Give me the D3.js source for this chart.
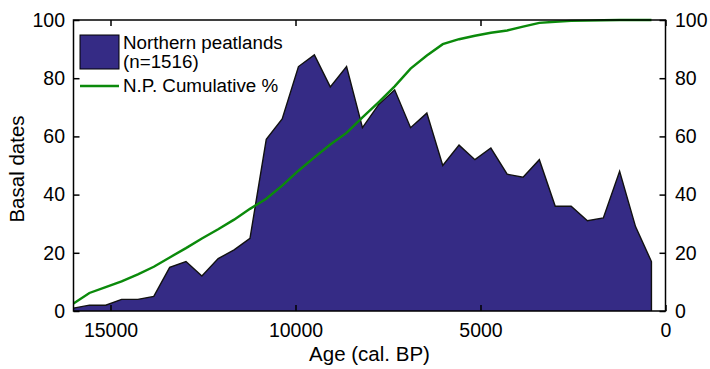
<!DOCTYPE html>
<html>
<head>
<meta charset="utf-8">
<script src="https://cdn.jsdelivr.net/npm/d3@7"></script>
<style>
  html, body { margin: 0; padding: 0; background: #fff; }
  svg { display: block; }
  text { font-family: "Liberation Sans", Arial, sans-serif; fill: #000; }
</style>
</head>
<body>
<svg id="chart" width="710" height="369"></svg>
<script>
// Age of each bin (cal. BP)
const ages = [16000, 15570, 15130, 14700, 14260, 13830, 13400, 12960, 12530, 12090,
              11660, 11230, 10790, 10360, 9920, 9490, 9060, 8620, 8190, 7750,
              7320, 6890, 6450, 6020, 5580, 5150, 4720, 4280, 3850, 3410,
              2980, 2550, 2110, 1680, 1240, 810, 380];
// Number of basal dates per bin, northern peatlands
const basalDates = [1, 2, 2, 4, 4, 5, 15, 17, 12, 18,
                    21, 25, 59, 66, 84, 88, 77, 84, 63, 71,
                    76, 63, 68, 50, 57, 52, 56, 47, 46, 52,
                    36, 36, 31, 32, 48, 29, 17];
// Cumulative percentage, northern peatlands
const cumulativePct = [2.6, 6.2, 8.2, 10.2, 12.6, 15.2, 18.4, 21.6, 24.9, 28.1,
                       31.4, 35.1, 38.6, 43.1, 48.2, 52.8, 57.2, 61.2, 66.5, 71.8,
                       77.2, 83.3, 87.8, 91.7, 93.4, 94.6, 95.6, 96.4, 97.7, 99.0,
                       99.4, 99.7, 99.8, 99.9, 100, 100, 100];
const xTicks = [15000, 10000, 5000, 0];
const yTicks = [0, 20, 40, 60, 80, 100];
const legendLabels = ["Northern peatlands", "(n=1516)", "N.P. Cumulative %"];

const fillColor = "#352b85";
const lineColor = "#0b8a0b";

const svg = d3.select("#chart");
const L = 73.5, R = 665.5, T = 20, B = 311;

const x = d3.scaleLinear().domain([16000, 0]).range([L, R]);
const yLeft = d3.scaleLinear().domain([0, 100]).range([B, T]);
const yRight = d3.scaleLinear().domain([0, 100]).range([B, T]);

const rows = ages.map((a, i) => ({ age: a, n: basalDates[i], pct: cumulativePct[i] }));

// Filled distribution of basal dates
const area = d3.area()
  .x(d => x(d.age))
  .y0(yLeft(0))
  .y1(d => yLeft(d.n));
svg.append("path")
  .datum(rows)
  .attr("d", area)
  .attr("fill", fillColor)
  .attr("stroke", "none");

// Outline on top of the fill, including the closing drop at the young end
const outline = rows.map(d => [x(d.age), yLeft(d.n)]);
outline.push([x(ages[ages.length - 1]), yLeft(0)]);
svg.append("path")
  .attr("d", d3.line()(outline))
  .attr("fill", "none")
  .attr("stroke", "#111")
  .attr("stroke-width", 1.4)
  .attr("stroke-linejoin", "miter");

// Cumulative curve
svg.append("path")
  .datum(rows)
  .attr("d", d3.line().x(d => x(d.age)).y(d => yRight(d.pct)))
  .attr("fill", "none")
  .attr("stroke", lineColor)
  .attr("stroke-width", 2.4);

// Axes with inward ticks
const fs = "19.5px";
const gB = svg.append("g").attr("transform", `translate(0,${B})`)
  .call(d3.axisBottom(x).tickValues(xTicks).tickSize(-6).tickPadding(12).tickFormat(d3.format("d")));
const gT = svg.append("g").attr("transform", `translate(0,${T})`)
  .call(d3.axisTop(x).tickValues(xTicks).tickSize(-6).tickFormat(""));
const gL = svg.append("g").attr("transform", `translate(${L},0)`)
  .call(d3.axisLeft(yLeft).tickValues(yTicks).tickSize(-6).tickPadding(8.5));
const gR = svg.append("g").attr("transform", `translate(${R},0)`)
  .call(d3.axisRight(yRight).tickValues(yTicks).tickSize(-6).tickPadding(9.5));

[gB, gT, gL, gR].forEach(g => {
  g.select(".domain").remove();
  g.selectAll(".tick line").attr("stroke", "#000").attr("stroke-width", 1.5);
  g.selectAll(".tick text")
    .style("font-family", "'Liberation Sans', Arial, sans-serif")
    .style("font-size", fs)
    .attr("fill", "#000");
});

// Plot frame
svg.append("rect")
  .attr("x", L).attr("y", T)
  .attr("width", R - L).attr("height", B - T)
  .attr("fill", "none")
  .attr("stroke", "#000")
  .attr("stroke-width", 1.5);

// Axis titles
svg.append("text")
  .attr("x", (L + R) / 2).attr("y", 361)
  .attr("text-anchor", "middle")
  .style("font-size", "20.5px")
  .text("Age (cal. BP)");
svg.append("text")
  .attr("transform", "translate(24,169) rotate(-90)")
  .attr("text-anchor", "middle")
  .style("font-size", "20.5px")
  .text("Basal dates");

// Legend
const leg = svg.append("g");
leg.append("rect")
  .attr("x", 80).attr("y", 35).attr("width", 39).attr("height", 34)
  .attr("fill", fillColor).attr("stroke", "#000").attr("stroke-width", 1);
leg.append("line")
  .attr("x1", 80).attr("x2", 119).attr("y1", 86).attr("y2", 86)
  .attr("stroke", lineColor).attr("stroke-width", 2.4);
leg.append("text").attr("x", 123).attr("y", 48.5).style("font-size", "18.8px").text(legendLabels[0]);
leg.append("text").attr("x", 123).attr("y", 68).style("font-size", "18.8px").text(legendLabels[1]);
leg.append("text").attr("x", 123).attr("y", 92).style("font-size", "18.8px").text(legendLabels[2]);
</script>
</body>
</html>
